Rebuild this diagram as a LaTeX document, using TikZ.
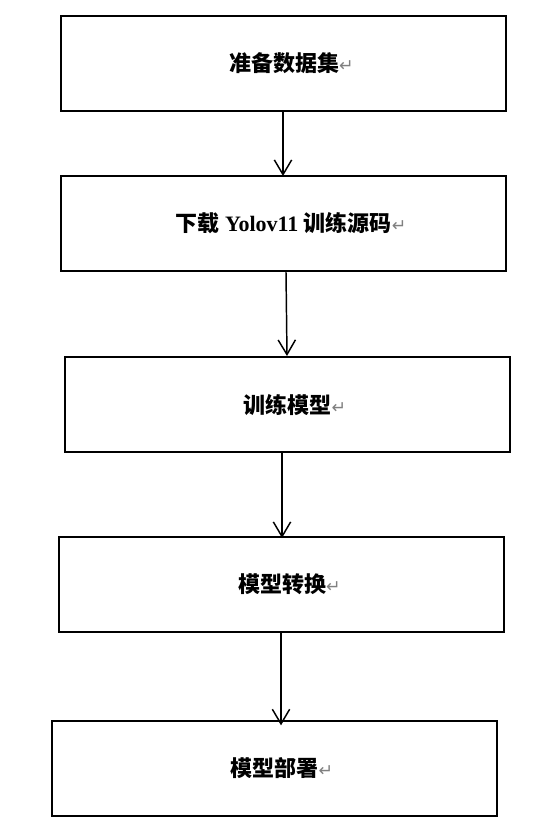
\documentclass[tikz,border=0pt]{standalone}
\usepackage{fontspec}
\setmainfont{Liberation Serif}
\newfontfamily\cjk{Noto Sans CJK SC}
\newfontfamily\symb{DejaVu Sans}
\usetikzlibrary{arrows.meta}
\newcommand{\retmark}{{\symb\mdseries\color{gray}\fontsize{13}{15}\selectfont ↵}}

\begin{document}
\begin{tikzpicture}[x=0.75pt,y=0.75pt,yscale=-1,xscale=1,
  stepbox/.style={draw,line width=1.5pt,minimum width=333.75pt,minimum height=71.25pt,inner sep=0pt,font=\fontsize{16.5}{19}\selectfont\bfseries},
  arr/.style={line width=1.1pt,-{Straight Barb[length=11pt,width=13pt,line width=1.1pt]}}]
%set diagram size
\path (0,0) rectangle (557,828);

%Shape: Rectangle [id:b1]
\node[stepbox] (b1) at (283.5,63.5) {\hspace*{12pt}{\cjk 准备数据集}\retmark};
%Shape: Rectangle [id:b2]
\node[stepbox] (b2) at (283,223.5) {\hspace*{12pt}{\cjk 下载} Yolov11 {\cjk 训练源码}\retmark};
%Shape: Rectangle [id:b3]
\node[stepbox] (b3) at (287,404.5) {\hspace*{12pt}{\cjk 训练模型}\retmark};
%Shape: Rectangle [id:b4]
\node[stepbox] (b4) at (281.5,584.5) {\hspace*{12pt}{\cjk 模型转换}\retmark};
%Shape: Rectangle [id:b5]
\node[stepbox] (b5) at (274,768.5) {\hspace*{12pt}{\cjk 模型部署}\retmark};

%Straight Lines
\draw[arr] (b1.south -| 283,0) -- ([yshift=0.75pt]b2.north -| 283,0);
\draw[arr] (b2.south -| 286,0) -- (b3.north -| 287,0);
\draw[arr] (b3.south -| 282,0) -- ([yshift=1.5pt]b4.north -| 282,0);
\draw[arr] (b4.south -| 281,0) -- ([yshift=4pt]b5.north -| 281,0);

\end{tikzpicture}
\end{document}
